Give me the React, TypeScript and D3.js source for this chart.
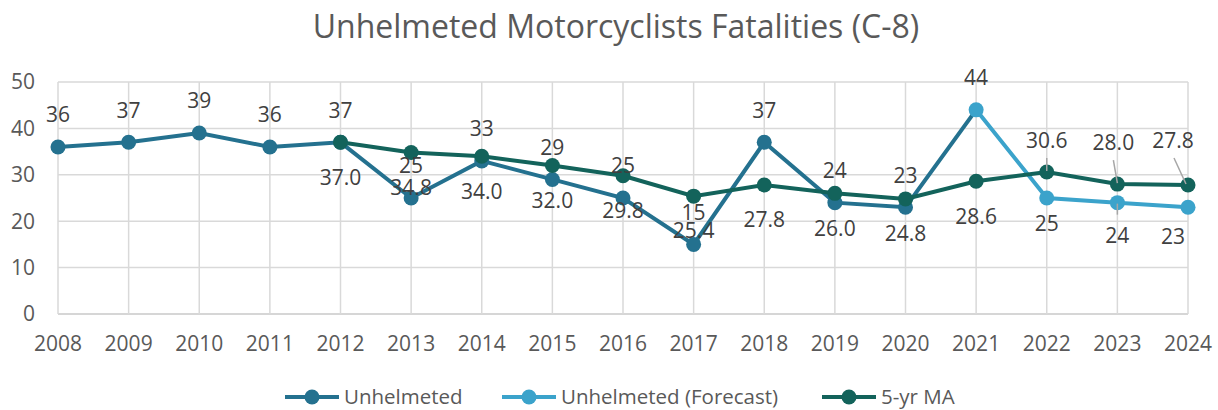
import * as d3 from 'd3';

const years = ['2008','2009','2010','2011','2012','2013','2014','2015','2016','2017','2018','2019','2020','2021','2022','2023','2024'];
const unhelmeted = [36, 37, 39, 36, 37, 25, 33, 29, 25, 15, 37, 24, 23, 44];
const forecastYears = ['2021', '2022', '2023', '2024'];
const forecast = [44, 25, 24, 23];
const maYears = ['2012','2013','2014','2015','2016','2017','2018','2019','2020','2021','2022','2023','2024'];
const movingAvg = [37.0, 34.8, 34.0, 32.0, 29.8, 25.4, 27.8, 26.0, 24.8, 28.6, 30.6, 28.0, 27.8];
const yTicks = [0, 10, 20, 30, 40, 50];

const W = 1218, H = 410;
const C_UN = '#24718f';
const C_FC = '#3ba3cb';
const C_MA = '#13635b';
const FONT = '"Open Sans", sans-serif';

// label nudges (dx, dy from point), plus optional leader line
const fcLabel: Record<string, { dx: number; dy: number; lead?: boolean }> = {
  '2022': { dx: 0, dy: 26 },
  '2023': { dx: 0, dy: 33, lead: true },
  '2024': { dx: -15, dy: 29 },
};
const maLabel: Record<string, { dx: number; dy: number; lead?: boolean }> = {
  '2022': { dx: 0, dy: -31, lead: true },
  '2023': { dx: -4, dy: -41, lead: true },
  '2024': { dx: -15, dy: -44, lead: true },
};

export default function App() {
  const x = d3.scalePoint<string>().domain(years).range([58, 1188]);
  const y = d3.scaleLinear().domain([0, 50]).range([314, 82]);

  const line = d3.line<[string, number]>().x(d => x(d[0])!).y(d => y(d[1]));

  const unPts: [string, number][] = unhelmeted.map((v, i) => [years[i], v]);
  const fcPts: [string, number][] = forecast.map((v, i) => [forecastYears[i], v]);
  const maPts: [string, number][] = movingAvg.map((v, i) => [maYears[i], v]);

  const labelStyle = { fontFamily: FONT, fontSize: 21, fill: '#404040' } as const;
  const tickStyle = { fontFamily: FONT, fontSize: 21, fill: '#595959' } as const;

  return (
    <svg width={W} height={H} style={{ position: 'absolute', left: 0, top: 0 }}>
      <rect width={W} height={H} fill="#fff" />
      <text x={616} y={38} textAnchor="middle" style={{ fontFamily: FONT, fontSize: 32, fill: '#595959' }}>
        Unhelmeted Motorcyclists Fatalities (C-8)
      </text>

      {/* grid */}
      {yTicks.map(t => (
        <g key={'y' + t}>
          <line x1={58} x2={1188} y1={y(t)} y2={y(t)} stroke={t === 0 ? '#c8c8c8' : '#d9d9d9'} strokeWidth={1.5} />
          <text x={35} y={y(t)} dy="0.35em" textAnchor="end" style={tickStyle}>{t}</text>
        </g>
      ))}
      {years.map(yr => (
        <g key={'x' + yr}>
          <line x1={x(yr)} x2={x(yr)} y1={y(50)} y2={y(0)} stroke="#d9d9d9" strokeWidth={1.5} />
          <text x={x(yr)} y={344} dy="0.35em" textAnchor="middle" style={tickStyle}>{yr}</text>
        </g>
      ))}

      {/* series */}
      <path d={line(fcPts)!} fill="none" stroke={C_FC} strokeWidth={4} />
      <path d={line(unPts)!} fill="none" stroke={C_UN} strokeWidth={4} />
      <path d={line(maPts)!} fill="none" stroke={C_MA} strokeWidth={4} />
      {fcPts.map(d => <circle key={'fc' + d[0]} cx={x(d[0])} cy={y(d[1])} r={7.5} fill={C_FC} />)}
      {unPts.slice(0, -1).map(d => <circle key={'un' + d[0]} cx={x(d[0])} cy={y(d[1])} r={7.5} fill={C_UN} />)}
      {maPts.map(d => <circle key={'ma' + d[0]} cx={x(d[0])} cy={y(d[1])} r={7.5} fill={C_MA} />)}

      {/* labels: unhelmeted above */}
      {unPts.map(d => (
        <text key={'lu' + d[0]} x={x(d[0])} y={y(d[1]) - 32} dy="0.35em" textAnchor="middle" style={labelStyle}>{d[1]}</text>
      ))}
      {/* forecast below */}
      {fcPts.slice(1).map(d => {
        const o = fcLabel[d[0]];
        const px = x(d[0])!, py = y(d[1]);
        return (
          <g key={'lf' + d[0]}>
            {o.lead && <line x1={px} y1={py + 1} x2={px} y2={py + 12} stroke="#a6a6a6" strokeWidth={1.5} />}
            <text x={px + o.dx} y={py + o.dy} dy="0.35em" textAnchor="middle" style={labelStyle}>{d[1]}</text>
          </g>
        );
      })}
      {/* moving average */}
      {maPts.map(d => {
        const o = maLabel[d[0]] ?? { dx: 0, dy: 35 };
        const px = x(d[0])!, py = y(d[1]);
        const tx = px + o.dx, ty = py + o.dy;
        return (
          <g key={'lm' + d[0]}>
            {o.lead && <line x1={tx + (o.dx < -10 ? 1 : 0)} y1={ty + 17} x2={px - (o.dx < -10 ? 2 : 0)} y2={py - 1} stroke="#a6a6a6" strokeWidth={1.5} />}
            <text x={tx} y={ty} dy="0.35em" textAnchor="middle" style={labelStyle}>{d[1].toFixed(1)}</text>
          </g>
        );
      })}

      {/* legend */}
      {[
        { name: 'Unhelmeted', color: C_UN, x0: 285 },
        { name: 'Unhelmeted (Forecast)', color: C_FC, x0: 502 },
        { name: '5-yr MA', color: C_MA, x0: 822 },
      ].map(l => (
        <g key={l.name}>
          <line x1={l.x0} x2={l.x0 + 54} y1={397} y2={397} stroke={l.color} strokeWidth={4} />
          <circle cx={l.x0 + 27} cy={397} r={7.5} fill={l.color} />
          <text x={l.x0 + 59} y={397} dy="0.35em" style={{ fontFamily: FONT, fontSize: 20.5, fill: '#595959' }}>{l.name}</text>
        </g>
      ))}
    </svg>
  );
}
